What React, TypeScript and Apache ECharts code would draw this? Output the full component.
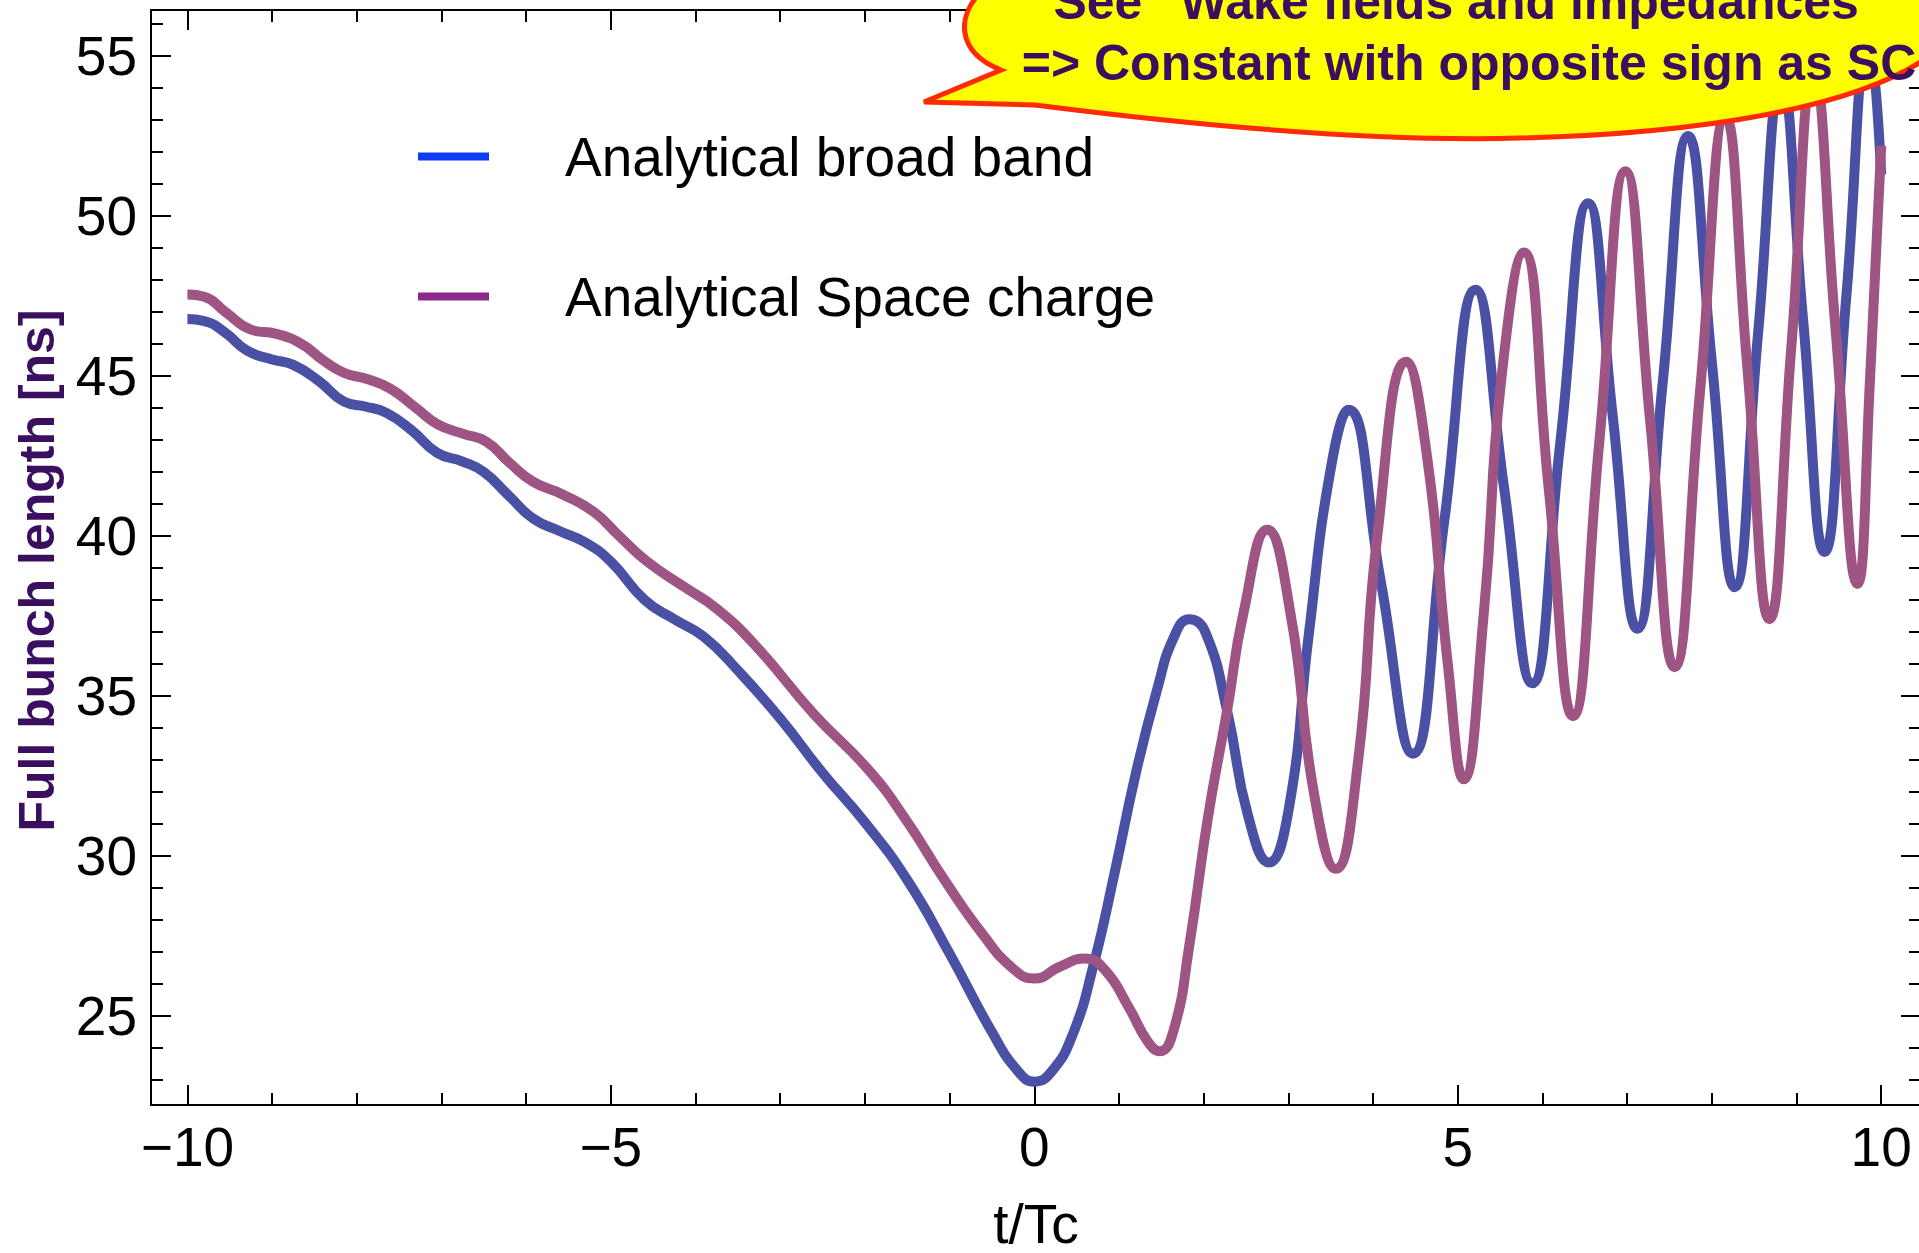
import React, { useEffect, useRef } from "react";
import * as echarts from "echarts";

// ---- data ----
const broadT = [
  -10.0, -9.8, -9.55, -9.3, -9.0, -8.75, -8.45, -8.15, -7.9, -7.65, -7.35, -7.05, -6.75, -6.5, -6.2, -5.92, -5.6, -5.3,
  -5.0, -4.6, -4.25, -3.9, -3.5, -3.0, -2.5, -2.0, -1.5, -1.0, -0.5, -0.2, 0.0, 0.2, 0.45, 0.7, 0.95, 1.2, 1.45, 1.65,
  1.83, 2.02, 2.28, 2.52, 2.77, 3.0, 3.24, 3.5, 3.71, 4.09, 4.47, 4.84, 5.21, 5.545, 5.88, 6.21, 6.54, 6.83, 7.12, 7.42,
  7.72, 8.0, 8.27, 8.545, 8.82, 9.075, 9.33, 9.59, 9.85, 10.0,
];
const broadY = [
  46.78, 46.72, 46.35, 45.8, 45.52, 45.35, 44.85, 44.2, 44.05, 43.85, 43.3, 42.6, 42.33, 42.0, 41.25, 40.55, 40.15, 39.8,
  39.2, 38.0, 37.4, 36.85, 35.8, 34.3, 32.6, 31.05, 29.25, 26.95, 24.5, 23.3, 22.95, 23.25, 24.4, 26.6, 29.5, 32.6, 35.2,
  36.85, 37.4, 37.0, 34.5, 31.3, 29.8, 31.4, 36.9, 42.1, 43.95, 38.6, 33.2, 40.45, 47.7, 41.55, 35.4, 42.9, 50.4, 43.75,
  37.1, 44.8, 52.5, 45.45, 38.4, 46.3, 54.2, 46.85, 39.5, 47.55, 55.6, 51.3,
];
const scT = [
  -10.0, -9.8, -9.55, -9.25, -8.95, -8.65, -8.4, -8.15, -7.87, -7.6, -7.3, -7.05, -6.75, -6.47, -6.2, -5.92, -5.57, -5.2,
  -4.9, -4.57, -4.11, -3.76, -3.3, -2.6, -1.96, -1.51, -1.06, -0.6, -0.25, 0.0, 0.3, 0.6, 0.84, 1.11, 1.34, 1.48, 1.65,
  1.83, 2.05, 2.28, 2.47, 2.75, 3.03, 3.3, 3.56, 3.82, 4.05, 4.39, 4.64, 4.88, 5.07, 5.31, 5.51, 5.78, 6.07, 6.36, 6.67,
  6.98, 7.27, 7.56, 7.86, 8.16, 8.42, 8.68, 8.94, 9.2, 9.46, 9.72, 9.87, 10.0,
];
const scY = [
  47.55, 47.48, 47.0, 46.45, 46.32, 46.0, 45.5, 45.1, 44.9, 44.6, 44.0, 43.5, 43.2, 42.95, 42.3, 41.7, 41.3, 40.75, 40.0,
  39.2, 38.37, 37.75, 36.6, 34.43, 32.7, 31.11, 29.25, 27.52, 26.48, 26.17, 26.54, 26.8, 26.42, 25.3, 24.2, 23.9, 24.6,
  27.2, 31.2, 34.6, 37.6, 40.2, 37.5, 32.0, 29.6, 32.9, 40.0, 45.45, 42.43, 36.07, 32.4, 37.66, 44.8, 48.86, 41.6,
  34.37, 42.9, 51.4, 43.65, 35.9, 44.5, 53.1, 45.25, 37.4, 45.95, 54.5, 46.5, 38.5, 45.0, 52.2,
];

const xMajor = [-10, -5, 0, 5, 10];
const xMinor = [-9, -8, -7, -6, -4, -3, -2, -1, 1, 2, 3, 4, 6, 7, 8, 9];
const yMajor = [25, 30, 35, 40, 45, 50, 55];
const yMinor = [23, 24, 26, 27, 28, 29, 31, 32, 33, 34, 36, 37, 38, 39, 41, 42, 43, 44, 46, 47, 48, 49, 51, 52, 53, 54, 56];

const seriesNames = ["Analytical broad band", "Analytical Space charge"];
const lineColors = ["#4a51a5", "#9f5584"];
const legendColors = ["#0b3df2", "#8a2a8c"];
const xName = "t/Tc";
const yName = "Full bunch length [ns]";
const calloutLines = ['See "Wake fields and impedances"', "=> Constant with opposite sign as SC"];

const XMIN = -10.43;
const XMAX = 10.47;
const YMIN = 22.22;
const YMAX = 56.44;

const FONT = "'Liberation Sans', Arial, Helvetica, sans-serif";
const BUBBLE_D =
  "M 985 -12 C 955 15 956 52 1001 70 L 924 102 L 1035 105 C 1200 126 1380 142 1520 138 C 1690 134 1860 110 1935 52 L 1935 -12 Z";

let registered = false;

export default function App() {
  const ref = useRef<HTMLDivElement>(null);

  useEffect(() => {
    if (!ref.current) return;
    if (!registered) {
      echarts.graphic.registerShape("bubble", echarts.graphic.extendPath(BUBBLE_D, {}));
      registered = true;
    }
    const chart = echarts.init(ref.current, null, { renderer: "svg" });
    const gridBox = { left: 151, right: -2, top: 10, bottom: 148, containLabel: false, outerBoundsMode: "none" };
    const tickStyle = { color: "#000", width: 2 };
    const fmt = (v: number) => (v < 0 ? "\u2212" + Math.abs(v) : String(v));

    const mkX = (grid: number, pos: string, major: boolean, main: boolean) => ({
      type: "value",
      gridIndex: grid,
      position: pos,
      min: XMIN,
      max: XMAX,
      axisLine: { show: major, onZero: false, lineStyle: { color: "#000", width: 2 } },
      axisTick: { show: true, inside: true, length: major ? 20 : 12, customValues: major ? xMajor : xMinor, lineStyle: tickStyle },
      axisLabel: main
        ? { show: true, customValues: xMajor, formatter: fmt, fontSize: 55, fontFamily: FONT, color: "#000", margin: 14 }
        : { show: false },
      splitLine: { show: false },
      ...(main
        ? {
            name: xName,
            nameLocation: "middle",
            nameGap: 91,
            nameTextStyle: { fontSize: 55, fontFamily: FONT, color: "#000" },
          }
        : {}),
    });
    const mkY = (grid: number, pos: string, major: boolean, main: boolean) => ({
      type: "value",
      gridIndex: grid,
      position: pos,
      min: YMIN,
      max: YMAX,
      axisLine: { show: major, onZero: false, lineStyle: { color: "#000", width: 2 } },
      axisTick: { show: true, inside: true, length: major ? 20 : 12, customValues: major ? yMajor : yMinor, lineStyle: tickStyle },
      axisLabel: main
        ? { show: true, customValues: yMajor, fontSize: 55, fontFamily: FONT, color: "#000", margin: 14 }
        : { show: false },
      splitLine: { show: false },
      ...(main
        ? {
            name: yName,
            nameLocation: "middle",
            nameGap: 89,
            nameRotate: 90,
            nameTextStyle: {
              fontSize: 50,
              fontWeight: "bold",
              fontFamily: FONT,
              color: "#3a0f60",
              padding: [0, 26, 0, 0],
            },
          }
        : {}),
    });

    chart.setOption({
      animation: false,
      backgroundColor: "#ffffff",
      grid: [gridBox, gridBox],
      xAxis: [mkX(0, "bottom", true, true), mkX(0, "top", true, false), mkX(1, "bottom", false, false), mkX(1, "top", false, false)],
      yAxis: [mkY(0, "left", true, true), mkY(0, "right", true, false), mkY(1, "left", false, false), mkY(1, "right", false, false)],
      legend: {
        orient: "vertical",
        left: 413,
        top: 124,
        itemWidth: 71,
        itemHeight: 8,
        itemGap: 85,
        icon: "rect",
        selectedMode: false,
        textStyle: { fontSize: 55, fontFamily: FONT, color: "#000", padding: [0, 0, 0, 71] },
        data: seriesNames.map((n, i) => ({ name: n, itemStyle: { color: legendColors[i] } })),
      },
      series: [
        {
          name: seriesNames[0],
          type: "line",
          xAxisIndex: 0,
          yAxisIndex: 0,
          smooth: true,
          showSymbol: false,
          lineStyle: { width: 10, color: lineColors[0] },
          itemStyle: { color: lineColors[0] },
          data: broadT.map((t, i) => [t, broadY[i]]),
          z: 2,
        },
        {
          name: seriesNames[1],
          type: "line",
          xAxisIndex: 0,
          yAxisIndex: 0,
          smooth: true,
          showSymbol: false,
          lineStyle: { width: 10, color: lineColors[1] },
          itemStyle: { color: lineColors[1] },
          data: scT.map((t, i) => [t, scY[i]]),
          z: 3,
        },
      ],
      graphic: [
        {
          type: "bubble",
          x: 0,
          y: 0,
          z: 100,
          style: { fill: "#ffff00", stroke: "#ff2a00", lineWidth: 5 },
        },
        {
          type: "text",
          x: 1468,
          y: 2,
          z: 101,
          style: {
            text: calloutLines[0],
            fontSize: 50,
            fontWeight: "bold",
            fontFamily: FONT,
            fill: "#3a0f60",
            align: "center",
            verticalAlign: "middle",
          },
        },
        {
          type: "text",
          x: 1469,
          y: 63,
          z: 101,
          style: {
            text: calloutLines[1],
            fontSize: 50,
            fontWeight: "bold",
            fontFamily: FONT,
            fill: "#3a0f60",
            align: "center",
            verticalAlign: "middle",
          },
        },
      ],
    });
    return () => chart.dispose();
  }, []);

  return (
    <div
      ref={ref}
      style={{ position: "fixed", left: 0, top: 0, width: 1919, height: 1253, background: "#fff" }}
    />
  );
}
